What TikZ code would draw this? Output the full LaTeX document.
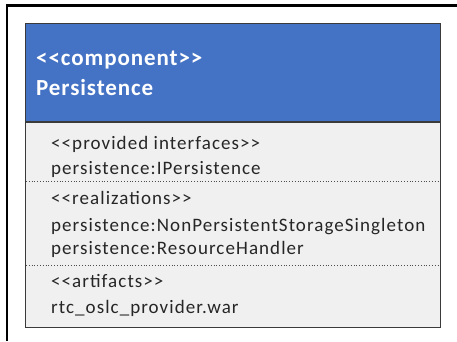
\documentclass[tikz,border=0pt]{standalone}
\usepackage{fontspec}
\setmainfont{Carlito}[Ligatures=TeXOff]
\definecolor{headblue}{HTML}{4472C4}
\definecolor{bodygray}{HTML}{F0F0F0}
\definecolor{edgegray}{HTML}{3A3A3A}
\begin{document}
\begin{tikzpicture}[x=1pt,y=-1pt,
  headtext/.style={anchor=base west,inner sep=0pt,text=white,
    font=\fontsize{23}{28}\selectfont\bfseries\addfontfeatures{LetterSpace=4}},
  bodytext/.style={anchor=base west,inner sep=0pt,text=black!85,
    font=\fontsize{19}{23}\selectfont\addfontfeatures{LetterSpace=5.6}},
  sep/.style={draw=black!70,line width=0.8pt,dotted}]
\useasboundingbox (0,0) rectangle (457,341);
% outer frame, open at right and bottom
\draw[line width=2.5pt] (7,341) -- (7,5.5) -- (457,5.5);
% component box
\fill[bodygray] (25,23) rectangle (440,327);
\fill[headblue] (25,23) rectangle (440,122);
\draw[edgegray,line width=1.5pt] (25,122) -- (440,122);
\draw[edgegray,line width=1pt] (25,23) rectangle (440,327);
% compartment separators
\coordinate (s1a) at (26,181); \coordinate (s1b) at (439,181);
\coordinate (s2a) at (26,265); \coordinate (s2b) at (439,265);
\draw[sep] (s1a) -- (s1b);
\draw[sep] (s2a) -- (s2b);
% header
\node[headtext] (stereo) at (36,65) {<<component>>};
\node[headtext] (name) at (36,95) {Persistence};
% compartments
\node[bodytext] (pi) at (51,149) {<<provided interfaces>>};
\node[bodytext] (pi1) at (51,174) {persistence:IPersistence};
\node[bodytext] (re) at (51,204) {<<realizations>>};
\node[bodytext] (re1) at (51,231) {persistence:NonPersistentStorageSingleton};
\node[bodytext] (re2) at (51,254) {persistence:ResourceHandler};
\node[bodytext] (ar) at (51,287) {<<artifacts>>};
\node[bodytext] (ar1) at (51,313) {rtc\_oslc\_provider.war};
\end{tikzpicture}
\end{document}
